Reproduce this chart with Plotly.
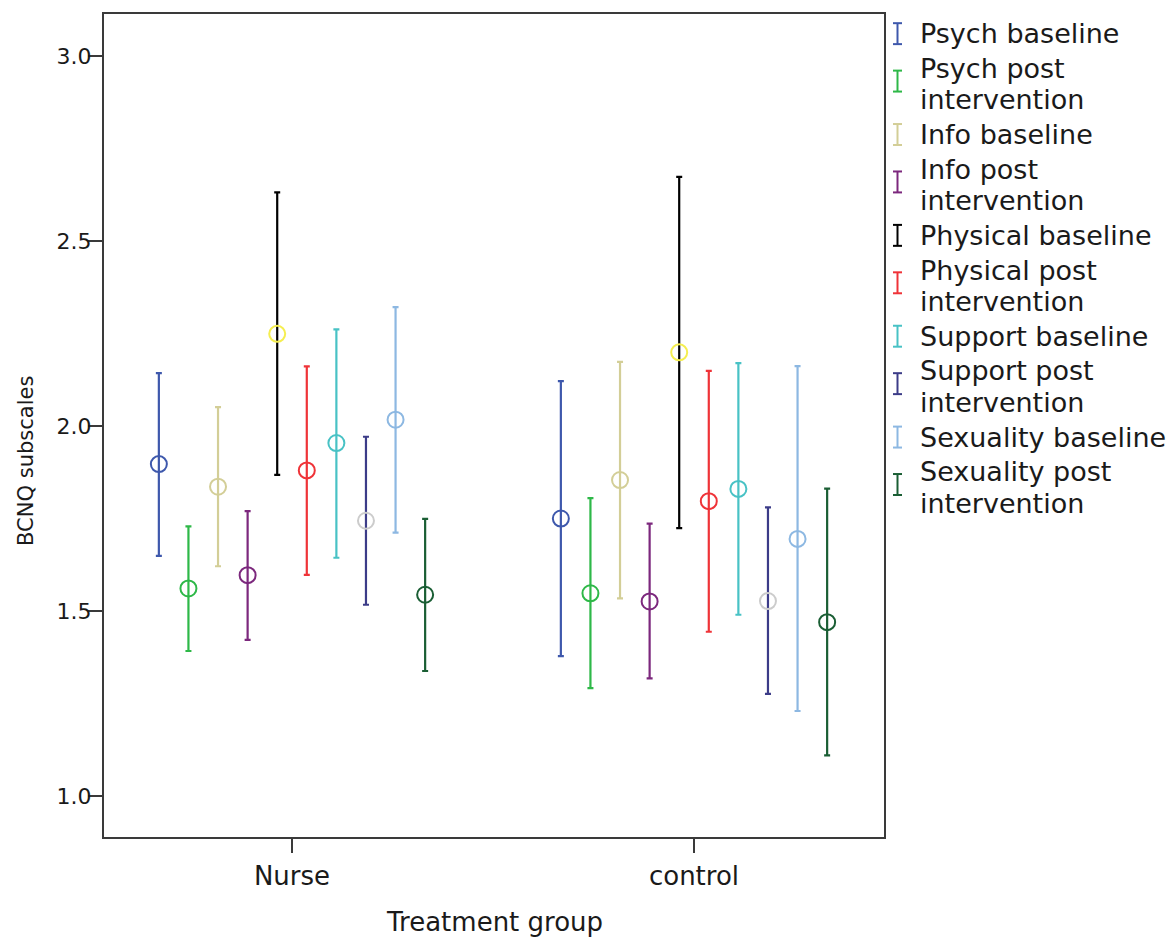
import plotly.graph_objects as go

# ---------------- data ----------------
groups = ["Nurse", "control"]
series = ["Psych baseline", "Psych post intervention", "Info baseline",
          "Info post intervention", "Physical baseline", "Physical post intervention",
          "Support baseline", "Support post intervention", "Sexuality baseline",
          "Sexuality post intervention"]
legend_lines = [["Psych baseline"], ["Psych post", "intervention"], ["Info baseline"],
                ["Info post", "intervention"], ["Physical baseline"],
                ["Physical post", "intervention"], ["Support baseline"],
                ["Support post", "intervention"], ["Sexuality baseline"],
                ["Sexuality post", "intervention"]]

means_nurse = [1.897, 1.561, 1.836, 1.597, 2.249, 1.880, 1.954, 1.744, 2.017, 1.544]
upper_nurse = [2.143, 1.729, 2.051, 1.770, 2.631, 2.161, 2.261, 1.971, 2.321, 1.749]
lower_nurse = [1.649, 1.392, 1.621, 1.422, 1.868, 1.598, 1.644, 1.517, 1.712, 1.338]

means_control = [1.750, 1.548, 1.854, 1.526, 2.199, 1.797, 1.830, 1.527, 1.695, 1.470]
upper_control = [2.121, 1.805, 2.173, 1.736, 2.673, 2.149, 2.170, 1.780, 2.162, 1.831]
lower_control = [1.378, 1.292, 1.534, 1.318, 1.724, 1.444, 1.490, 1.276, 1.230, 1.110]

y_ticks = [1.0, 1.5, 2.0, 2.5, 3.0]

# ---------------- style ----------------
bar_colors = ["#3E58AC", "#2EB848", "#D3CE97", "#7C287D", "#000000",
              "#EF3338", "#48C2C5", "#3C3C88", "#8DB8E2", "#1A5E34"]
marker_colors = ["#3E58AC", "#2EB848", "#D3CE97", "#7C287D", "#F5EE50",
                 "#EF3338", "#48C2C5", "#CCCCCC", "#8DB8E2", "#1A5E34"]

W, H = 1169, 940
L, R, T, B = 104, 884, 12, 837          # plot area in pixels
FRAME = "#3a3a3a"
FONT_H = "DejaVu Sans"


def px_x(p):
    return (p - L) / (R - L)


def px_y(p):
    return (B - p) / (B - T)


step = 0.0736
n = len(series)
fig = go.Figure()
for i, name in enumerate(series):
    off = (i - (n - 1) / 2) * step
    means = [means_nurse[i], means_control[i]]
    ups = [upper_nurse[i] - means_nurse[i], upper_control[i] - means_control[i]]
    downs = [means_nurse[i] - lower_nurse[i], means_control[i] - lower_control[i]]
    fig.add_trace(go.Scatter(
        x=[g + off for g in range(len(groups))], y=means, mode="markers", name=name,
        marker=dict(symbol="circle-open", size=16, color=marker_colors[i],
                    line=dict(width=2, color=marker_colors[i])),
        error_y=dict(type="data", symmetric=False, array=ups, arrayminus=downs,
                     color=bar_colors[i], thickness=2.2, width=3),
        showlegend=False,
    ))

# legend built from annotations + glyph shapes
shapes = []
annotations = []
y = 31.7
line_step, entry_gap = 31.5, 3.3
for i, lines in enumerate(legend_lines):
    ys = []
    for ln in lines:
        annotations.append(dict(x=px_x(918), y=px_y(y), xref="paper", yref="paper",
                                text=ln, showarrow=False, xanchor="left", yanchor="middle",
                                font=dict(family=FONT_H, size=27, color="#1a1a1a")))
        ys.append(y)
        y += line_step
    y += entry_gap
    cy = sum(ys) / len(ys) - (3 if len(ys) > 1 else 0)
    top, bot = cy - 10.5, cy + 10.5
    c = bar_colors[i]
    shapes.append(dict(type="line", xref="paper", yref="paper", x0=px_x(897.5), x1=px_x(897.5),
                       y0=px_y(top), y1=px_y(bot), line=dict(color=c, width=2)))
    for yy in (top, bot):
        shapes.append(dict(type="line", xref="paper", yref="paper", x0=px_x(893), x1=px_x(902),
                           y0=px_y(yy), y1=px_y(yy), line=dict(color=c, width=2)))

# y-axis title
annotations.append(dict(x=px_x(26), y=px_y(460), xref="paper", yref="paper",
                        text="BCNQ subscales", showarrow=False, textangle=-90,
                        xanchor="center", yanchor="middle",
                        font=dict(family=FONT_H, size=21, color="#1a1a1a")))
# x-axis title
annotations.append(dict(x=px_x(494), y=px_y(922), xref="paper", yref="paper",
                        text="Treatment group", showarrow=False,
                        xanchor="center", yanchor="middle",
                        font=dict(family=FONT_H, size=26, color="#1a1a1a")))

x_lo = -(292 - L) / 402
x_hi = 1 + (R - 694) / 402
y_hi = 3.0 + (54 - T) / 371
y_lo = 1.0 - (B - 796) / 371

fig.update_layout(
    width=W, height=H,
    margin=dict(l=L, r=W - R, t=T, b=H - B, pad=0),
    paper_bgcolor="white", plot_bgcolor="white",
    showlegend=False,
    shapes=shapes, annotations=annotations,
    xaxis=dict(range=[x_lo, x_hi], tickmode="array", tickvals=list(range(len(groups))),
               ticktext=groups, showgrid=False, zeroline=False,
               showline=True, mirror=True, linewidth=2, linecolor=FRAME,
               ticks="outside", ticklen=14, tickwidth=2, tickcolor=FRAME,
               ticklabelstandoff=1,
               tickfont=dict(family=FONT_H, size=26, color="#1a1a1a")),
    yaxis=dict(range=[y_lo, y_hi], tickmode="array", tickvals=y_ticks,
               ticktext=[f"{v:.1f}" for v in y_ticks], showgrid=False, zeroline=False,
               showline=True, mirror=True, linewidth=2, linecolor=FRAME,
               ticks="outside", ticklen=14, tickwidth=2, tickcolor=FRAME,
               ticklabelstandoff=-8,
               tickfont=dict(family=FONT_H, size=22, color="#1a1a1a")),
)

fig.write_html("out.html")
